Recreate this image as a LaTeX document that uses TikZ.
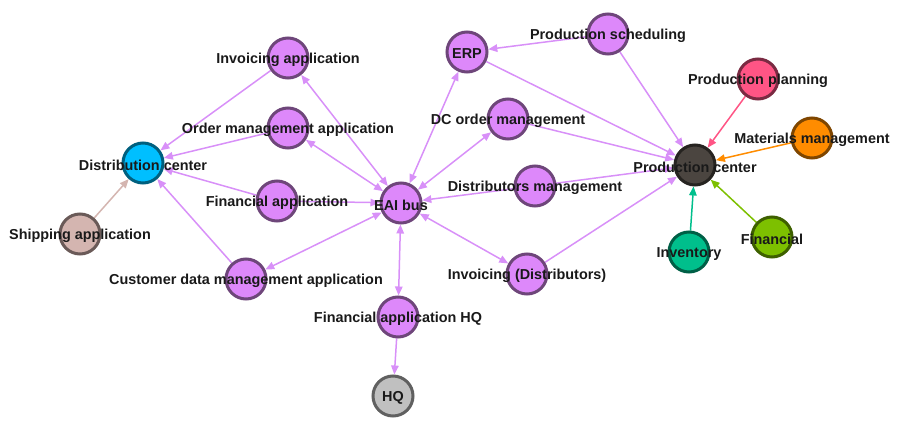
\documentclass[tikz,border=0pt]{standalone}
\usepackage{fontspec}
\setmainfont{Liberation Sans}
\usetikzlibrary{arrows.meta,backgrounds}
\definecolor{appfill}{RGB}{221,136,250}
\definecolor{appline}{RGB}{110,70,122}
\definecolor{appedge}{RGB}{216,144,248}
\definecolor{dcfill}{RGB}{0,191,255}
\definecolor{dcline}{RGB}{0,96,127}
\definecolor{shipfill}{RGB}{212,181,176}
\definecolor{shipline}{RGB}{106,90,88}
\definecolor{pcfill}{RGB}{75,69,64}
\definecolor{pcline}{RGB}{38,35,32}
\definecolor{planfill}{RGB}{255,85,133}
\definecolor{planline}{RGB}{122,42,66}
\definecolor{matfill}{RGB}{255,140,0}
\definecolor{matline}{RGB}{127,70,0}
\definecolor{invfill}{RGB}{0,191,140}
\definecolor{invline}{RGB}{0,95,70}
\definecolor{finfill}{RGB}{125,192,0}
\definecolor{finline}{RGB}{62,96,0}
\definecolor{hqfill}{RGB}{192,192,192}
\definecolor{hqline}{RGB}{96,96,96}

\tikzset{
  sys/.style={circle, minimum size=40pt, inner sep=0pt, line width=3pt,
    draw=#1line, fill=#1fill},
  lbl/.style={font=\fontsize{14.4}{14.4}\selectfont\bfseries, text=black!90,
    yshift=-2pt},
  link/.style={line width=1.5pt, draw=#1,
    -{Triangle[length=9pt,width=7.5pt,fill=#1]}},
  link/.default=appedge,
  both/.style={link, {Triangle[length=9pt,width=7.5pt,fill=appedge]}-{Triangle[length=9pt,width=7.5pt,fill=appedge]}}
}

\begin{document}
\begin{tikzpicture}[x=1pt,y=-1pt]
  \useasboundingbox (0,0) rectangle (898,435);
  % systems
  \node[sys=dc]   (dc)    at (143,163) {};
  \node[sys=ship] (ship)  at (80,234)  {};
  \node[sys=app]  (inv)   at (288,58)  {};
  \node[sys=app]  (order) at (288,128) {};
  \node[sys=app]  (fin)   at (277,201) {};
  \node[sys=app]  (cust)  at (246,279) {};
  \node[sys=app]  (eai)   at (401,203) {};
  \node[sys=app]  (finhq) at (398,317) {};
  \node[sys=hq]   (hq)    at (393,396) {};
  \node[sys=app]  (erp)   at (467,52)  {};
  \node[sys=app]  (sched) at (608,34)  {};
  \node[sys=app]  (dcord) at (508,119) {};
  \node[sys=app]  (distm) at (535,186) {};
  \node[sys=app]  (invd)  at (527,274) {};
  \node[sys=pc]   (pc)    at (695,165) {};
  \node[sys=plan] (plan)  at (758,79)  {};
  \node[sys=mat]  (mat)   at (812,138) {};
  \node[sys=inv]  (stock) at (689,252) {};
  \node[sys=fin]  (finan) at (772,237) {};

  % connectors
  \begin{scope}[on background layer]
    \draw[link=shipfill](ship)--(dc);
    \draw[link](inv)--(dc);
    \draw[link](order)--(dc);
    \draw[link](fin)--(dc);
    \draw[link](cust)--(dc);
    \draw[both](inv)--(eai);
    \draw[both](order)--(eai);
    \draw[link](fin)--(eai);
    \draw[both](cust)--(eai);
    \draw[both](erp)--(eai);
    \draw[both](dcord)--(eai);
    \draw[link](distm)--(eai);
    \draw[both](invd)--(eai);
    \draw[both](finhq)--(eai);
    \draw[link](finhq)--(hq);
    \draw[link](sched)--(erp);
    \draw[link](sched)--(pc);
    \draw[link](erp)--(pc);
    \draw[link](dcord)--(pc);
    \draw[link](distm)--(pc);
    \draw[link](invd)--(pc);
    \draw[link=planfill](plan)--(pc);
    \draw[link=matfill](mat)--(pc);
    \draw[link=invfill](stock)--(pc);
    \draw[link=finfill](finan)--(pc);
  \end{scope}

  % names
  \node[lbl] at (dc)    {Distribution center};
  \node[lbl] at (ship)  {Shipping application};
  \node[lbl] at (inv)   {Invoicing application};
  \node[lbl] at (order) {Order management application};
  \node[lbl] at (fin)   {Financial application};
  \node[lbl] at (cust)  {Customer data management application};
  \node[lbl] at (eai)   {EAI bus};
  \node[lbl] at (finhq) {Financial application HQ};
  \node[lbl] at (hq)    {HQ};
  \node[lbl] at (erp)   {ERP};
  \node[lbl] at (sched) {Production scheduling};
  \node[lbl] at (dcord) {DC order management};
  \node[lbl] at (distm) {Distributors management};
  \node[lbl] at (invd)  {Invoicing (Distributors)};
  \node[lbl] at (pc)    {Production center};
  \node[lbl] at (plan)  {Production planning};
  \node[lbl] at (mat)   {Materials management};
  \node[lbl] at (stock) {Inventory};
  \node[lbl] at (finan) {Financial};
\end{tikzpicture}
\end{document}
